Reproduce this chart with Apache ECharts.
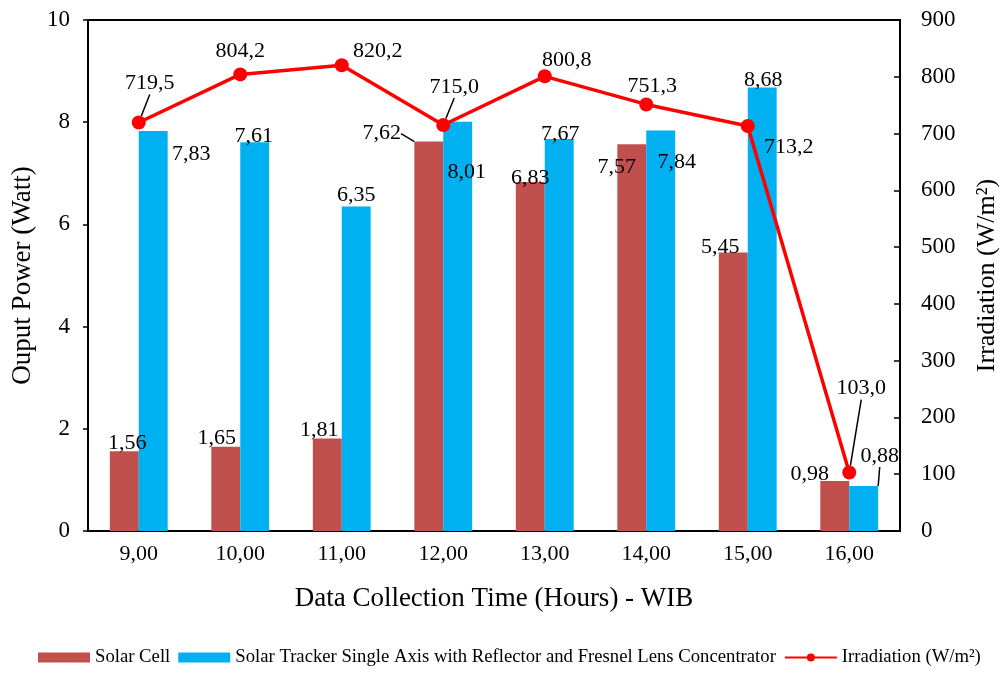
<!DOCTYPE html>
<html>
<head>
<meta charset="utf-8">
<title>Output power and irradiation</title>
<script src="https://cdn.jsdelivr.net/npm/echarts@6/dist/echarts.min.js"></script>
<style>
  html, body { margin: 0; padding: 0; background: #fff; }
  #main { width: 1000px; height: 674px; }
</style>
</head>
<body>
<div id="main"></div>
<script>
  // data
  var hours = ['9,00', '10,00', '11,00', '12,00', '13,00', '14,00', '15,00', '16,00'];
  var solarCell = [1.56, 1.65, 1.81, 7.62, 6.83, 7.57, 5.45, 0.98];
  var solarTracker = [7.83, 7.61, 6.35, 8.01, 7.67, 7.84, 8.68, 0.88];
  var irradiation = [719.5, 804.2, 820.2, 715.0, 800.8, 751.3, 713.2, 103.0];
  var leftTicks = [0, 2, 4, 6, 8, 10];
  var rightTicks = [0, 100, 200, 300, 400, 500, 600, 700, 800, 900];

  // label moves (px) away from the default 'top' place
  var cellNudge = [[3, 8], [-9, 8], [-8, 8], [-47, 8], [0, 12], [-15, 39], [-13, 11], [-25, 9]];
  var trackerNudge = [[38, 39], [-1, 10], [0, 5], [9, 67], [1, 11], [16, 48], [1, 9], [16, -14]];
  var lineNudge = [[11, -16], [0, 0], [36, 9], [11, -15], [22, 7], [6, 5], [41, 44], [12, -61]];
  // which labels get a guide line
  var cellLeader = [3];
  var trackerLeader = [7];
  var lineLeader = [0, 3, 7];

  var serif = 'Liberation Serif, Times New Roman, serif';

  function fmt(v, d) {
    return v.toFixed(d).replace('.', ',');
  }

  function items(values, leaders, digits) {
    return values.map(function (v, i) {
      var it = { value: v, label: { formatter: fmt(v, digits) } };
      if (leaders.indexOf(i) >= 0) it.labelLine = { show: true };
      return it;
    });
  }

  function nudgeLayout(nudge) {
    return function (p) {
      var d = nudge[p.dataIndex];
      return { dx: d[0], dy: d[1] };
    };
  }

  var dataLabel = { show: true, position: 'top', color: '#000', fontFamily: serif, fontSize: 22 };
  var guide = { show: false, lineStyle: { color: '#000', width: 1.5 }, length2: 0 };

  var chart = echarts.init(document.getElementById('main'));
  chart.setOption({
    animation: false,
    textStyle: { fontFamily: serif },
    grid: {
      left: 88, right: 100, top: 20, bottom: 143,
      outerBoundsMode: 'none',
      show: true, borderColor: '#000', borderWidth: 2, backgroundColor: 'transparent'
    },
    legend: {
      bottom: 2,
      left: 33,
      itemWidth: 52,
      itemHeight: 10,
      itemGap: 8,
      textStyle: { fontFamily: serif, fontSize: 18.7, color: '#000' },
      data: [
        { name: 'Solar Cell', icon: 'rect' },
        { name: 'Solar Tracker Single Axis with Reflector and Fresnel Lens Concentrator', icon: 'rect' },
        { name: 'Irradiation (W/m²)' }
      ]
    },
    xAxis: {
      type: 'category',
      data: hours,
      name: 'Data Collection Time (Hours) - WIB',
      nameLocation: 'middle',
      nameGap: 54,
      nameTextStyle: { fontSize: 27, color: '#000', fontFamily: serif },
      axisLine: { lineStyle: { color: '#000', width: 2 } },
      axisTick: { show: false },
      axisLabel: { fontSize: 22, color: '#000', margin: 12, fontFamily: serif }
    },
    yAxis: [
      {
        type: 'value',
        min: leftTicks[0],
        max: leftTicks[leftTicks.length - 1],
        interval: leftTicks[1] - leftTicks[0],
        name: 'Ouput Power (Watt)',
        nameLocation: 'middle',
        nameGap: 52,
        nameTextStyle: { fontSize: 27, color: '#000', fontFamily: serif },
        axisLine: { show: true, lineStyle: { color: '#000', width: 2 } },
        axisTick: { show: true, length: 5, lineStyle: { color: '#000', width: 1.5 } },
        axisLabel: { fontSize: 23, color: '#000', margin: 18, fontFamily: serif },
        splitLine: { show: false }
      },
      {
        type: 'value',
        min: rightTicks[0],
        max: rightTicks[rightTicks.length - 1],
        interval: rightTicks[1] - rightTicks[0],
        name: 'Irradiation (W/m²)',
        nameLocation: 'middle',
        nameGap: 74,
        nameTextStyle: { fontSize: 26, color: '#000', fontFamily: serif },
        axisLine: { show: true, lineStyle: { color: '#000', width: 2 } },
        axisTick: { show: true, inside: true, length: 6, lineStyle: { color: '#000', width: 1.5 } },
        axisLabel: { fontSize: 23, color: '#000', margin: 21, fontFamily: serif },
        splitLine: { show: false }
      }
    ],
    series: [
      {
        name: 'Solar Cell',
        type: 'bar',
        barGap: '0%',
        barCategoryGap: '43%',
        itemStyle: { color: '#C0504D' },
        label: dataLabel,
        labelLine: guide,
        labelLayout: nudgeLayout(cellNudge),
        data: items(solarCell, cellLeader, 2)
      },
      {
        name: 'Solar Tracker Single Axis with Reflector and Fresnel Lens Concentrator',
        type: 'bar',
        itemStyle: { color: '#00B0F0' },
        label: dataLabel,
        labelLine: guide,
        labelLayout: nudgeLayout(trackerNudge),
        data: items(solarTracker, trackerLeader, 2)
      },
      {
        name: 'Irradiation (W/m²)',
        type: 'line',
        yAxisIndex: 1,
        symbol: 'circle',
        symbolSize: 14,
        z: 5,
        itemStyle: { color: '#FF0000' },
        lineStyle: { color: '#FF0000', width: 3.5 },
        label: dataLabel,
        labelLine: guide,
        labelLayout: nudgeLayout(lineNudge),
        data: items(irradiation, lineLeader, 1)
      }
    ]
  });
</script>
</body>
</html>
